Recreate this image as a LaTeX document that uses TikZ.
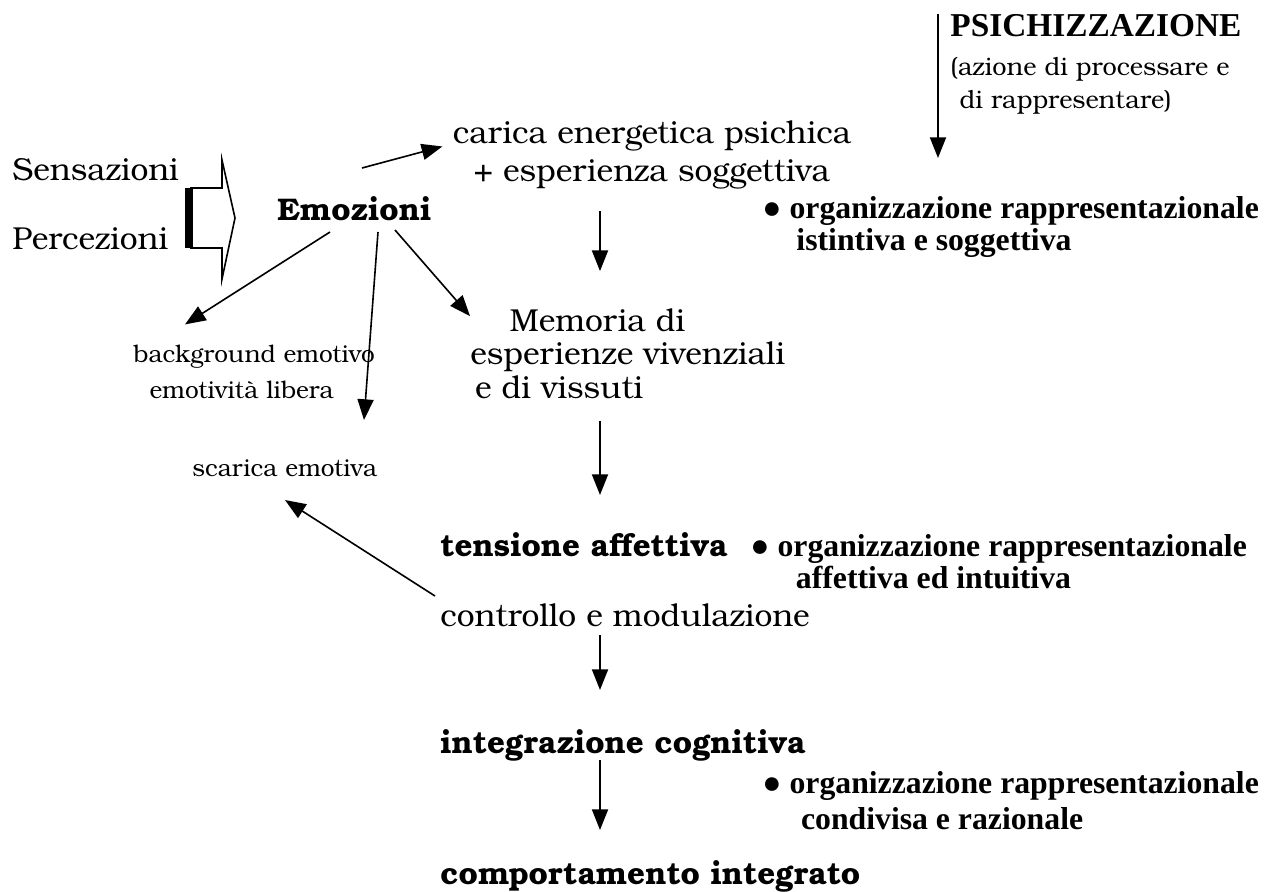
\documentclass[tikz,border=0pt]{standalone}
\usepackage{fontspec}
\setmainfont{TeX Gyre Bonum}
\newfontfamily\timesfont{Liberation Serif}
\usetikzlibrary{arrows.meta,calc}

\tikzset{
  txt/.style={inner sep=0pt, anchor=base west, font=\fontsize{13.8}{16}\selectfont},
  small/.style={inner sep=0pt, anchor=base west, align=left, font=\fontsize{10.6}{15.5}\selectfont},
  strong/.style={txt, font=\fontsize{13.6}{16}\selectfont\bfseries},
  org/.style={inner sep=0pt, anchor=base west, font=\timesfont\fontsize{13.8}{15}\selectfont\bfseries},
  link/.style={-{Triangle[length=9pt,width=7pt]}, line width=0.7pt},
}

\begin{document}
\begin{tikzpicture}[x=0.4348pt, y=-0.4348pt]
  \useasboundingbox (0,0) rectangle (1276,891);

  % inputs
  \node[txt] (sens) at (12,180) {Sensazioni};
  \node[txt] (perc) at (12,249) {Percezioni};
  \draw[line width=0.7pt] (222,160) -- (235,218) -- (222,279) -- (222,248)
    -- (191,248) -- (191,188) -- (222,188) -- cycle;
  \fill (185,188) rectangle (193,248);

  % emotions
  \node[strong] (emo) at (277,220) {Emozioni};
  \node[txt, anchor=base, align=center, font=\fontsize{13.8}{16.5}\selectfont] (carica) at (652,181)
    {carica energetica psichica\\ + esperienza soggettiva};
  \node[small] (backg) at (133,398)
    {background emotivo\\\hspace{7pt}emotività libera};
  \node[small] (scarica) at (192,476) {scarica emotiva};
  \node[txt, align=left, font=\fontsize{13.8}{14.5}\selectfont] (memoria) at (470,398)
    {\hspace{17pt}Memoria di\\esperienze vivenziali\\\hspace{2pt}e di vissuti};

  % psychic processing
  \node[small, font=\fontsize{11}{14.3}\selectfont] (psi) at (950,108)
    {{\timesfont\bfseries\fontsize{14.5}{14.3}\selectfont PSICHIZZAZIONE}\\[2.5pt]
     (azione di processare e\\
     \hspace{4pt}di rappresentare)};
  \coordinate (psitop) at ($(psi.base west)+(-12,-94)$);
  \coordinate (psiend) at ($(psi.base west)+(-12,50)$);

  \node[org] (org1) at (762,218)
    {\begin{tabular}[t]{@{}l@{\ }l@{}}● & organizzazione rappresentazionale\\[-1pt]
     & \hspace{3pt}istintiva e soggettiva\end{tabular}};
  \node[strong] (tens) at (440,556) {tensione affettiva};
  \node[org] (org2) at (750,556)
    {\begin{tabular}[t]{@{}l@{\ }l@{}}● & organizzazione rappresentazionale\\[-1pt]
     & \hspace{8pt}affettiva ed intuitiva\end{tabular}};
  \node[txt] (contr) at (440,626) {controllo e modulazione};
  \node[strong] (integr) at (440,753) {integrazione cognitiva};
  \node[org] (org3) at (762,793)
    {\begin{tabular}[t]{@{}l@{\ }l@{}}● & organizzazione rappresentazionale\\[1pt]
     & \hspace{5pt}condivisa e razionale\end{tabular}};
  \node[strong] (comp) at (440,884) {comportamento integrato};

  % connectors
  \draw[link] (psitop) -- (psiend);
  \draw[link] ($(emo.base west)+(85,-52)$) -- ($(carica.west)+(-10,-8)$);
  \draw[link] ($(carica.south)+(-52,22)$) -- ($(memoria.north west)+(130,-37)$);
  \draw[link] ($(emo.base west)+(53,12)$) -- ($(backg.north west)+(52,-20)$);
  \draw[link] ($(emo.base west)+(101,12)$) -- ($(scarica.base west)+(172,-56)$);
  \draw[link] ($(emo.base west)+(118,10)$) -- ($(memoria.north west)+(0,8)$);
  \draw[link] ($(memoria.south west)+(130,22)$) -- ($(tens.base west)+(160,-61)$);
  \draw[link] ($(contr.base west)+(-5,-30)$) -- ($(scarica.base west)+(93,24)$);
  \draw[link] ($(contr.base west)+(160,9)$) -- ($(integr.base west)+(160,-63)$);
  \draw[link] ($(integr.base west)+(160,7)$) -- ($(comp.base west)+(160,-54)$);
\end{tikzpicture}
\end{document}
